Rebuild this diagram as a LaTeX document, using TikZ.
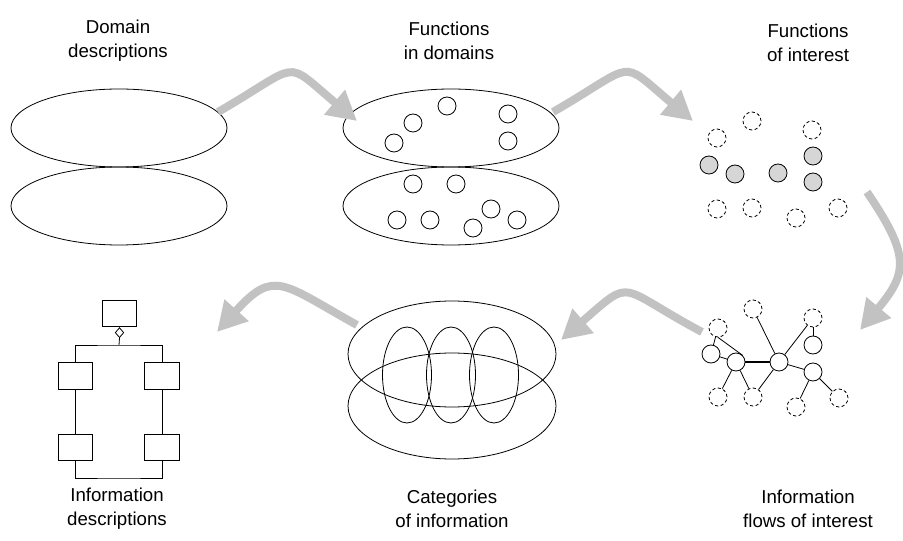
\documentclass[tikz,border=0pt]{standalone}
\usepackage{fontspec}
\setmainfont{Liberation Sans}
\usetikzlibrary{arrows.meta,shapes.geometric}

\begin{document}
\begin{tikzpicture}[x=0.75pt,y=-0.75pt,
  caption/.style={align=center,font=\fontsize{14}{18}\selectfont},
  realm/.style={draw,ellipse,line width=0.6pt,inner sep=0pt,
                minimum width=162pt,minimum height=58.5pt},
  category/.style={draw,ellipse,line width=0.6pt,inner sep=0pt,
                   minimum width=156pt,minimum height=79.5pt},
  slice/.style={draw,ellipse,line width=0.6pt,inner sep=0pt,
                minimum width=36.75pt,minimum height=72pt},
  fn/.style={draw,circle,line width=0.6pt,inner sep=0pt,minimum size=13.5pt},
  fnout/.style={fn,dash pattern=on 2.4pt off 1.8pt},
  fnin/.style={fn,fill=black!16},
  part/.style={draw,line width=0.6pt,inner sep=0pt,
               minimum width=26pt,minimum height=20pt},
  flow/.style={draw=black!24,line width=6pt,
               -{Triangle[length=22pt,width=23pt]}}
]
  \useasboundingbox (0,0) rectangle (903,541);

  % captions
  \node[caption] (capDom) at (118,41) {Domain\\descriptions};
  \node[caption] (capFun) at (449,41) {Functions\\in domains};
  \node[caption] (capInt) at (808,43) {Functions\\of interest};
  \node[caption] (capDesc) at (117,509) {Information\\descriptions};
  \node[caption] (capCat) at (452,509) {Categories\\of information};
  \node[caption] (capFlow) at (808,509) {Information\\flows of interest};

  % domain descriptions
  \node[realm] (dom1) at (119,128) {};
  \node[realm] (dom2) at (119,206) {};

  % functions in domains
  \node[realm] (fdom1) at (451,128) {};
  \node[realm] (fdom2) at (451,206) {};
  \foreach \x/\y [count=\i] in {447/106,413/123,394/143,508/114,508/141,
      413/184,456/184,397/220,430/220,491/209,473/228,517/220}
    \node[fn] (f\i) at (\x,\y) {};

  % functions of interest
  \foreach \x/\y [count=\i] in {752/121,717/138,812/130,717/209,752/208,796/218,838/208}
    \node[fnout] (o\i) at (\x,\y) {};
  \foreach \x/\y [count=\i] in {709/165,735/174,778/173,813/156,813/182}
    \node[fnin] (s\i) at (\x,\y) {};

  % information flows of interest
  \node[fnout] (nA) at (753,309) {};
  \node[fnout] (nB) at (718,328) {};
  \node[fnout] (nC) at (813,318) {};
  \node[fn] (nD) at (813,345) {};
  \node[fn] (nE) at (711,354) {};
  \node[fn] (nF) at (736,362) {};
  \node[fn] (nG) at (779,362) {};
  \node[fn] (nH) at (813,372) {};
  \node[fnout] (nI) at (718,397) {};
  \node[fnout] (nJ) at (753,397) {};
  \node[fnout] (nK) at (796,407) {};
  \node[fnout] (nL) at (839,398) {};
  \draw[line width=0.6pt] (nB) -- (nE);
  \draw[line width=0.6pt] (nB.south) -- (nF.north east);
  \draw[line width=0.6pt] (nE) -- (nF);
  \draw[line width=0.6pt] (nF) -- (nI);
  \draw[line width=0.6pt] (nF) -- (nJ);
  \draw[line width=0.9pt] (nF) -- (nG);
  \draw[line width=0.6pt] (nG) -- (nA);
  \draw[line width=0.6pt] (nG) -- (nC);
  \draw[line width=0.6pt] (nC) -- (nD);
  \draw[line width=0.6pt] (nG) -- (nJ);
  \draw[line width=0.6pt] (nG) -- (nH);
  \draw[line width=0.6pt] (nH) -- (nK);
  \draw[line width=0.6pt] (nH) -- (nL);

  % categories of information
  \node[category] (cat1) at (452,354) {};
  \node[category] (cat2) at (452,406) {};
  \node[slice] (sl1) at (407,375) {};
  \node[slice] (sl2) at (451,375) {};
  \node[slice] (sl3) at (494,375) {};

  % information descriptions
  \node[part] (whole) at (119.5,313.5) {};
  \node[draw,diamond,line width=0.6pt,inner sep=0pt,minimum width=6.5pt,
        minimum height=7.5pt,anchor=north] (agg) at (whole.south) {};
  \node[part] (p1) at (75.5,376) {};
  \node[part] (p2) at (162,376) {};
  \node[part] (p3) at (75.5,447.5) {};
  \node[part] (p4) at (162,447.5) {};
  \coordinate (joint) at (119,345);
  \coordinate (base) at (119,478);
  \draw[line width=0.6pt] (agg.south) -- (joint);
  \draw[line width=0.6pt] (p1.north) |- (joint) -| (p2.north);
  \draw[line width=0.6pt] (p1) -- (p3);
  \draw[line width=0.6pt] (p2) -- (p4);
  \draw[line width=0.6pt] (p3.south) |- (base) -| (p4.south);

  % flow arrows
  \coordinate (a1s) at (218,112);
  \coordinate (a1e) at (357,121);
  \coordinate (a2s) at (553,112);
  \coordinate (a2e) at (693,121);
  \coordinate (a3s) at (867,192);
  \coordinate (a3e) at (860,330);
  \coordinate (a4s) at (702,332);
  \coordinate (a4e) at (561,340);
  \coordinate (a5s) at (357,325);
  \coordinate (a5e) at (217,332);
  \draw[flow] (a1s) to[out=30,in=140,looseness=1.8] (a1e);
  \draw[flow] (a2s) to[out=30,in=140,looseness=1.8] (a2e);
  \draw[flow] (a3s) to[out=-56,in=50,looseness=1.4] (a3e);
  \draw[flow] (a4s) to[out=152,in=41,looseness=1.76] (a4e);
  \draw[flow] (a5s) to[out=151,in=48,looseness=1.56] (a5e);
\end{tikzpicture}
\end{document}
